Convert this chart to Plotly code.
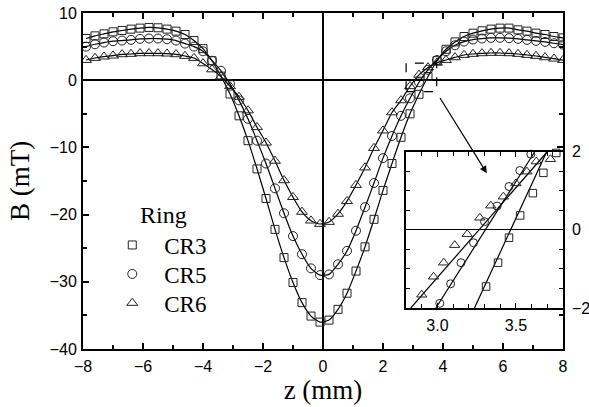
import plotly.graph_objects as go

# ---------------- data ----------------
z = [-7.9, -7.6, -7.3, -7.0, -6.7, -6.4, -6.1, -5.8, -5.5, -5.2, -4.9, -4.6, -4.3, -4.0,
     -3.7, -3.4, -3.1, -2.8, -2.5, -2.2, -1.9, -1.6, -1.3, -1.0, -0.7, -0.4, -0.1, 0.2,
     0.5, 0.8, 1.1, 1.4, 1.7, 2.0, 2.3, 2.6, 2.9, 3.2, 3.5, 3.8, 4.1, 4.4, 4.7, 5.0,
     5.3, 5.6, 5.9, 6.2, 6.5, 6.8, 7.1, 7.4, 7.7, 8.0]

cr3 = [6.2, 6.6, 6.9, 7.2, 7.4, 7.6, 7.75, 7.85, 7.8, 7.6, 7.3, 6.8, 5.9, 4.7,
       2.9, 0.6, -2.05, -5.3, -9.0, -13.2, -17.6, -22.2, -26.4, -30.1, -33.1, -35.1, -36.0, -35.7,
       -34.1, -31.7, -28.4, -24.8, -20.7, -16.4, -12.4, -8.5, -5.0, -2.1, 0.55, 2.9, 4.6, 5.7, 6.5, 7.0,
       7.35, 7.6, 7.75, 7.75, 7.5, 7.3, 7.0, 6.8, 6.5, 6.3]

cr5 = [5.0, 5.35, 5.6, 5.8, 5.9, 6.0, 6.15, 6.2, 6.2, 6.1, 5.9, 5.45, 5.0, 4.3,
       2.9, 1.4, -0.55, -3.0, -5.75, -9.0, -12.4, -16.1, -19.8, -23.2, -25.9, -28.0, -29.0, -28.9,
       -27.4, -25.4, -22.4, -18.9, -15.3, -11.6, -8.3, -5.3, -2.7, -0.3, 1.55, 3.0, 4.3, 5.2, 5.75, 6.05,
       6.2, 6.3, 6.3, 6.25, 6.15, 6.0, 5.85, 5.7, 5.5, 5.3]

cr6 = [3.0, 3.3, 3.5, 3.65, 3.85, 3.9, 4.0, 4.0, 4.0, 3.95, 3.85, 3.6, 3.3, 2.5,
       1.6, 0.55, -0.9, -2.5, -4.5, -7.0, -9.3, -12.0, -14.9, -17.4, -19.6, -20.9, -21.4, -21.1,
       -19.9, -18.0, -15.6, -13.0, -10.1, -7.5, -4.8, -3.0, -0.9, 0.8, 1.9, 2.6, 3.0, 3.4, 3.75, 3.9,
       4.0, 4.05, 4.05, 4.0, 3.9, 3.75, 3.6, 3.4, 3.2, 3.0]

# inset (zoom of zero crossing)
ins_z3 = [3.31, 3.386, 3.456, 3.527, 3.608, 3.675, 3.757]
ins_b3 = [-1.45, -0.84, -0.20, 0.37, 0.94, 1.46, 1.97]
ins_z5 = [3.015, 3.084, 3.15, 3.23, 3.30, 3.38, 3.456, 3.525, 3.595]
ins_b5 = [-1.88, -1.38, -0.84, -0.33, 0.21, 0.61, 1.11, 1.52, 1.94]
ins_z6 = [2.90, 2.975, 3.04, 3.11, 3.19, 3.27, 3.34, 3.42, 3.50, 3.57, 3.63, 3.72]
ins_b6 = [-1.66, -1.20, -0.84, -0.39, -0.11, 0.31, 0.62, 0.85, 1.19, 1.49, 1.75, 1.81]

# inset fit lines (end points at B = -2 and B = 2)
fit_b = [-2.0, 2.0]
fit_z3 = [3.236, 3.696]
fit_z5 = [2.99, 3.62]
fit_z6 = [2.83, 3.70]

names = ["CR3", "CR5", "CR6"]
symbols = ["square-open", "circle-open", "triangle-up-open"]

# ---------------- figure ----------------
fig = go.Figure()
LC = "black"
MC = "#222222"

main_series = [cr3, cr5, cr6]
for s in main_series:
    fig.add_trace(go.Scatter(x=z, y=s, mode="lines", line=dict(color=LC, width=1.2, shape="spline", smoothing=0.6),
                             showlegend=False, hoverinfo="skip"))
msizes = [8, 9, 9.5]
legs = ["legend", "legend2", "legend3"]
for s, n, sym, ms, lg in zip(main_series, names, symbols, msizes, legs):
    fig.add_trace(go.Scatter(x=z, y=s, mode="markers", name=n, legend=lg,
                             marker=dict(symbol=sym, size=ms, color=MC, line=dict(width=1, color=MC))))

# inset
for fz in [fit_z3, fit_z5, fit_z6]:
    fig.add_trace(go.Scatter(x=fz, y=fit_b, mode="lines", line=dict(color=LC, width=1.2),
                             xaxis="x2", yaxis="y2", showlegend=False, hoverinfo="skip"))
for zz, bb, sym, ms in zip([ins_z3, ins_z5, ins_z6], [ins_b3, ins_b5, ins_b6], symbols, [7.5, 8, 9]):
    fig.add_trace(go.Scatter(x=zz, y=bb, mode="markers", xaxis="x2", yaxis="y2", showlegend=False,
                             cliponaxis=False,
                             marker=dict(symbol=sym, size=ms, color=MC, line=dict(width=1, color=MC))))

tickfont = dict(family="Liberation Sans", size=16, color="black")
serif = "Liberation Serif"

def leg(yc):
    return dict(x=0.036, y=yc, xanchor="left", yanchor="middle", bgcolor="rgba(0,0,0,0)",
                font=dict(family=serif, size=23, color="black"), itemwidth=54)

fig.update_layout(
    width=589, height=407,
    margin=dict(l=83, r=26, t=13, b=58, autoexpand=False),
    paper_bgcolor="white", plot_bgcolor="white",
    xaxis=dict(domain=[0, 1], range=[-8, 8], dtick=2, tick0=0, ticks="inside", ticklen=6, tickwidth=1.5,
               tickcolor="black", minor=dict(dtick=1, ticks="inside", ticklen=4, tickwidth=1.5, tickcolor="black"),
               showline=True, linewidth=2, linecolor="black", mirror="allticks", automargin=False,
               zeroline=True, zerolinecolor="black", zerolinewidth=1.5, showgrid=False,
               tickfont=tickfont, ticklabelstandoff=2,
               title=dict(text="z (mm)", font=dict(family=serif, size=27, color="black"), standoff=2)),
    yaxis=dict(domain=[0, 1], range=[-40, 10], dtick=10, tick0=0, ticks="inside", ticklen=6, tickwidth=1.5,
               tickcolor="black", minor=dict(dtick=5, ticks="inside", ticklen=4, tickwidth=1.5, tickcolor="black"),
               showline=True, linewidth=2, linecolor="black", mirror="allticks", automargin=False,
               zeroline=True, zerolinecolor="black", zerolinewidth=1.5, showgrid=False,
               tickfont=tickfont, ticklabelstandoff=1,
               title=dict(text="B (mT)", font=dict(family=serif, size=27, color="black"), standoff=12)),
    xaxis2=dict(domain=[0.673, 1], anchor="y2", range=[2.8, 3.8], dtick=0.5, tick0=3.0, tickformat=".1f",
                ticks="inside", ticklen=5, tickwidth=1.2, tickcolor="black", automargin=False,
                minor=dict(dtick=0.1, ticks="inside", ticklen=4, tickwidth=1.2, tickcolor="black"),
                showline=True, linewidth=1.5, linecolor="black", mirror="allticks",
                zeroline=False, showgrid=False, tickfont=tickfont, ticklabelstandoff=2),
    yaxis2=dict(domain=[0.122, 0.587], anchor="x2", side="right", range=[-2, 2], dtick=2, tick0=0,
                ticks="inside", ticklen=5, tickwidth=1.2, tickcolor="black", automargin=False,
                minor=dict(dtick=0.5, ticks="inside", ticklen=4, tickwidth=1.2, tickcolor="black"),
                showline=True, linewidth=1.5, linecolor="black", mirror="allticks",
                zeroline=True, zerolinecolor="black", zerolinewidth=1, showgrid=False,
                tickfont=tickfont, ticklabelstandoff=4),
    legend=leg(0.3095),
    legend2=leg(0.2232),
    legend3=leg(0.1369),
    shapes=[dict(type="rect", xref="x", yref="y", x0=2.77, x1=3.79, y0=-1.7, y1=2.55,
                 line=dict(color="black", width=1.2, dash="dash"))],
    annotations=[
        dict(text="Ring", xref="paper", yref="paper", x=0.1667, y=0.399, xanchor="center", yanchor="middle",
             showarrow=False, font=dict(family=serif, size=24, color="black")),
        dict(x=5.46, y=-13.85, ax=3.87, ay=-2.43, xref="x", yref="y", axref="x", ayref="y",
             text="", showarrow=True, arrowhead=2, arrowsize=1.2, arrowwidth=1.2, arrowcolor="black"),
    ],
)

fig.write_html("out.html")
